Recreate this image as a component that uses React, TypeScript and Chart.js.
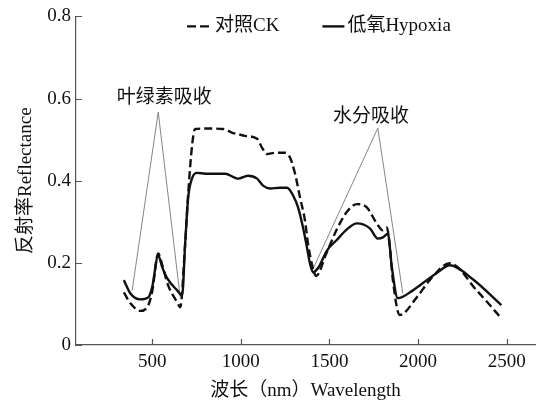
import React, { useEffect, useRef } from 'react';
import { Chart, registerables } from 'chart.js';

Chart.register(...registerables);

// ---- data ----
const ckWavelength = [340, 376, 433, 478, 500, 534, 557, 590, 641, 658, 686, 703, 726, 742, 800, 900, 956, 979, 1024, 1092, 1120, 1148, 1193, 1249, 1278, 1306, 1334, 1362, 1379, 1402, 1425, 1480, 1540, 1600, 1655, 1711, 1767, 1802, 1824, 1841, 1858, 1897, 1993, 2066, 2179, 2331, 2470];
const ckReflectance = [0.128, 0.102, 0.083, 0.097, 0.13, 0.223, 0.194, 0.145, 0.104, 0.092, 0.247, 0.368, 0.49, 0.526, 0.527, 0.526, 0.516, 0.514, 0.509, 0.502, 0.48, 0.465, 0.468, 0.468, 0.456, 0.417, 0.359, 0.303, 0.247, 0.195, 0.168, 0.22, 0.28, 0.325, 0.343, 0.335, 0.296, 0.279, 0.286, 0.238, 0.158, 0.073, 0.116, 0.158, 0.199, 0.133, 0.065];

const hypoxiaWavelength = [340, 376, 433, 478, 500, 534, 557, 585, 641, 669, 686, 703, 726, 754, 800, 911, 968, 985, 1041, 1092, 1126, 1165, 1221, 1261, 1295, 1323, 1351, 1373, 1390, 1407, 1440, 1486, 1540, 1600, 1655, 1728, 1773, 1802, 1830, 1852, 1886, 1971, 2050, 2106, 2179, 2309, 2470];
const hypoxiaReflectance = [0.158, 0.126, 0.111, 0.116, 0.141, 0.218, 0.189, 0.162, 0.133, 0.121, 0.247, 0.359, 0.407, 0.419, 0.417, 0.417, 0.407, 0.405, 0.412, 0.405, 0.388, 0.381, 0.383, 0.383, 0.364, 0.335, 0.286, 0.238, 0.199, 0.177, 0.19, 0.23, 0.255, 0.282, 0.296, 0.284, 0.259, 0.262, 0.271, 0.19, 0.114, 0.133, 0.158, 0.175, 0.194, 0.16, 0.097];

const seriesLabels = ['对照CK', '低氧Hypoxia'];
const xTickValues = [500, 1000, 1500, 2000, 2500];
const yTickValues = [0, 0.2, 0.4, 0.6, 0.8];
const xTitle = '波长（nm）Wavelength';
const yTitle = '反射率Reflectance';

const chlorophyllLabel = '叶绿素吸收';
const chlorophyllLineX = [387, 534, 658];
const chlorophyllLineY = [0.133, 0.567, 0.116];
const chlorophyllLabelX = 568;
const chlorophyllLabelY = 0.601;

const waterLabel = '水分吸收';
const waterLineX = [1405, 1773, 1914];
const waterLineY = [0.183, 0.528, 0.126];
const waterLabelX = 1734;
const waterLabelY = 0.555;

// ---- styles ----
const FONT = "'Liberation Serif', 'Noto Sans CJK SC', serif";
const TEXT = '#111';
const AXIS = '#555';
const LINE = '#111';

const toPoints = (xs: number[], ys: number[]) => xs.map((x, i) => ({ x, y: ys[i] }));

const decorPlugin = {
  id: 'decor',
  afterDraw(chart: any) {
    const { ctx, chartArea, scales } = chart;
    const xs = scales.x;
    const ys = scales.y;
    ctx.save();
    // inside tick marks
    ctx.strokeStyle = AXIS;
    ctx.lineWidth = 1.2;
    ctx.beginPath();
    xs.ticks.forEach((t: any) => {
      const px = Math.round(xs.getPixelForValue(t.value)) + 0.5;
      ctx.moveTo(px, chartArea.bottom);
      ctx.lineTo(px, chartArea.bottom - 6);
    });
    ys.ticks.forEach((t: any) => {
      const py = Math.round(ys.getPixelForValue(t.value)) + 0.5;
      ctx.moveTo(chartArea.left, py);
      ctx.lineTo(chartArea.left + 6, py);
    });
    ctx.stroke();

    // annotation labels
    ctx.fillStyle = TEXT;
    ctx.font = `19px ${FONT}`;
    ctx.textAlign = 'center';
    ctx.textBaseline = 'middle';
    ctx.fillText(chlorophyllLabel, xs.getPixelForValue(chlorophyllLabelX), ys.getPixelForValue(chlorophyllLabelY));
    ctx.fillText(waterLabel, xs.getPixelForValue(waterLabelX), ys.getPixelForValue(waterLabelY));

    // legend
    const ly = chartArea.top + 10;
    let lx = chartArea.left + 111;
    const items = [
      { text: seriesLabels[0], dash: [9, 4], len: 25 },
      { text: seriesLabels[1], dash: [], len: 22 },
    ];
    ctx.textAlign = 'left';
    items.forEach((it) => {
      ctx.strokeStyle = LINE;
      ctx.lineWidth = 2.4;
      ctx.setLineDash(it.dash);
      ctx.beginPath();
      ctx.moveTo(lx, ly);
      ctx.lineTo(lx + it.len, ly);
      ctx.stroke();
      ctx.setLineDash([]);
      lx += it.len + 3;
      ctx.fillText(it.text, lx, ly);
      lx += ctx.measureText(it.text).width + 43;
    });
    ctx.restore();
  },
};

export default function App() {
  const ref = useRef<HTMLCanvasElement | null>(null);

  useEffect(() => {
    document.body.style.margin = '0';
    const canvas = ref.current;
    if (!canvas) return;
    const chart = new Chart(canvas, {
      type: 'line',
      data: {
        datasets: [
          {
            label: seriesLabels[0],
            data: toPoints(ckWavelength, ckReflectance),
            borderColor: LINE,
            borderWidth: 2.4,
            borderDash: [8, 4],
            pointRadius: 0,
            cubicInterpolationMode: 'monotone',
            fill: false,
          },
          {
            label: seriesLabels[1],
            data: toPoints(hypoxiaWavelength, hypoxiaReflectance),
            borderColor: LINE,
            borderWidth: 2.4,
            pointRadius: 0,
            cubicInterpolationMode: 'monotone',
            fill: false,
          },
          {
            label: chlorophyllLabel,
            data: toPoints(chlorophyllLineX, chlorophyllLineY),
            borderColor: '#777',
            borderWidth: 0.9,
            pointRadius: 0,
            tension: 0,
            fill: false,
          },
          {
            label: waterLabel,
            data: toPoints(waterLineX, waterLineY),
            borderColor: '#777',
            borderWidth: 0.9,
            pointRadius: 0,
            tension: 0,
            fill: false,
          },
        ],
      },
      options: {
        responsive: false,
        animation: false,
        layout: { padding: { top: 15, right: 3, left: 0, bottom: 0 } },
        plugins: {
          legend: { display: false },
          tooltip: { enabled: false },
        },
        scales: {
          x: {
            type: 'linear',
            min: 70,
            max: 2660,
            afterFit: (s: any) => {
              s.height = 57;
            },
            afterBuildTicks: (s: any) => {
              s.ticks = xTickValues.map((v) => ({ value: v }));
            },
            grid: { display: false, drawTicks: false },
            border: { display: true, color: AXIS, width: 1.2 },
            ticks: {
              color: TEXT,
              font: { family: FONT, size: 19 },
              padding: 6,
              maxRotation: 0,
              autoSkip: false,
              callback: (v: any) => String(v),
            },
            title: {
              display: true,
              text: xTitle,
              color: TEXT,
              font: { family: FONT, size: 19 },
              padding: { top: 0, bottom: 0 },
            },
          },
          y: {
            type: 'linear',
            min: 0,
            max: 0.8,
            afterFit: (s: any) => {
              s.width = 76;
            },
            afterBuildTicks: (s: any) => {
              s.ticks = yTickValues.map((v) => ({ value: v }));
            },
            grid: { display: false, drawTicks: false },
            border: { display: true, color: AXIS, width: 1.2 },
            ticks: {
              color: TEXT,
              font: { family: FONT, size: 19 },
              padding: 5,
              callback: (v: any) => (Number(v) === 0 ? '0' : Number(v).toFixed(1)),
            },
            title: {
              display: true,
              text: yTitle,
              color: TEXT,
              font: { family: FONT, size: 19 },
              padding: { top: 15, bottom: 0 },
            },
          },
        },
      },
      plugins: [decorPlugin],
    } as any);
    return () => chart.destroy();
  }, []);

  return (
    <div style={{ width: 538, height: 402 }}>
      <canvas ref={ref} width={538} height={402} />
    </div>
  );
}
